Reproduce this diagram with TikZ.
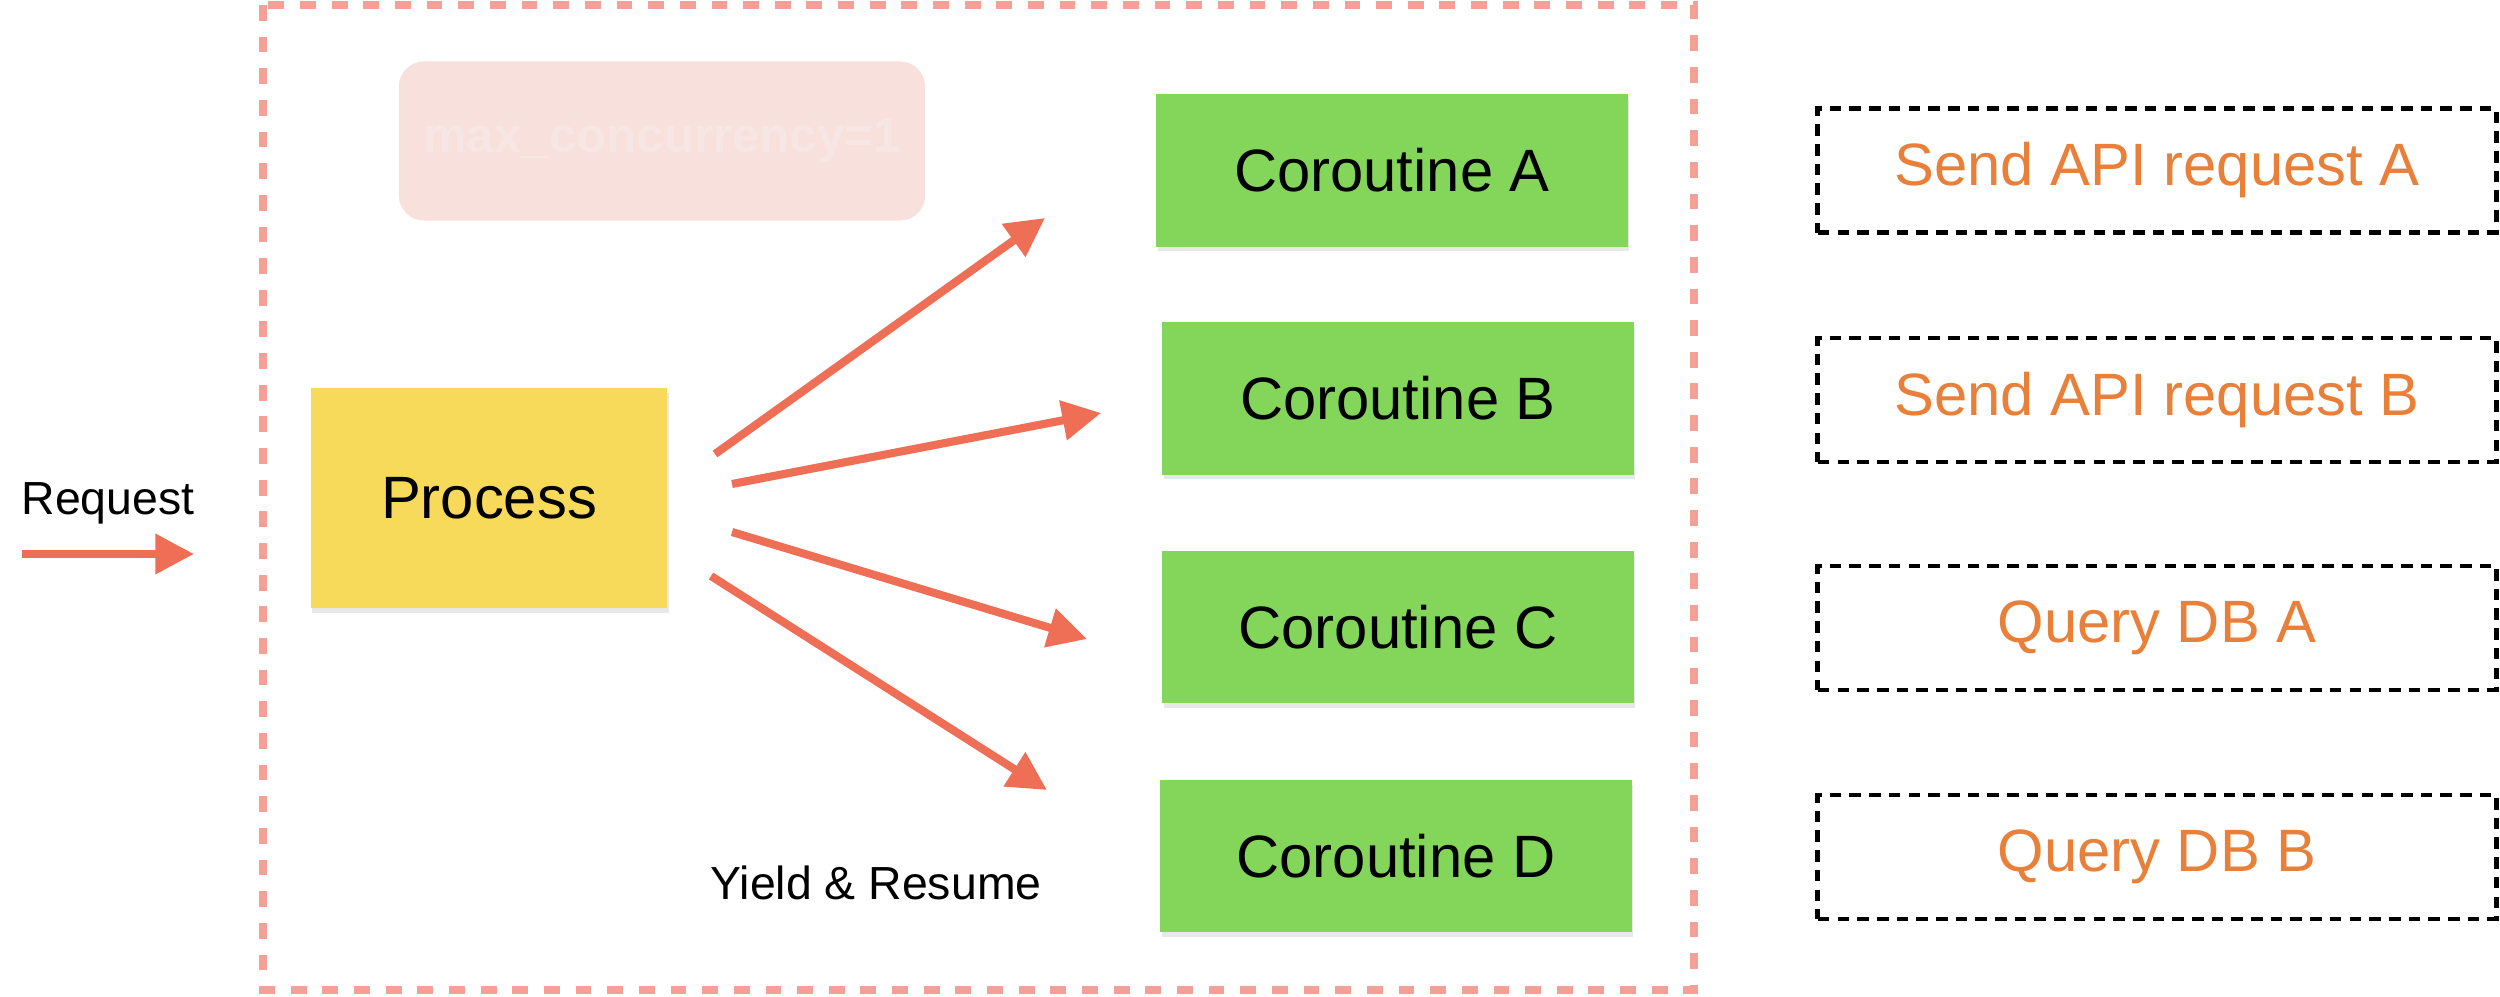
\documentclass[tikz,border=0pt]{standalone}
\usepackage{fontspec}
\setmainfont{Liberation Sans}
\usetikzlibrary{shadows,arrows.meta}
\definecolor{pinkdash}{HTML}{F4A096}
\definecolor{maxfill}{HTML}{F8E1DD}
\definecolor{maxtext}{HTML}{F7E6E3}
\definecolor{procfill}{HTML}{F8DA5A}
\definecolor{corofill}{HTML}{83D65A}
\definecolor{arrowc}{HTML}{EE6E56}
\definecolor{orangetext}{HTML}{E9803A}
\tikzset{
  boxshadow/.style={drop shadow={opacity=0.18, shadow xshift=0.4pt, shadow yshift=-1.3pt}},
  procbox/.style={fill=procfill, boxshadow, minimum width=3.56cm, minimum height=2.2cm, inner sep=0pt, font=\fontsize{17}{20}\selectfont},
  corobox/.style={fill=corofill, boxshadow, minimum width=4.71cm, minimum height=1.52cm, inner sep=0pt, font=\fontsize{17}{20}\selectfont},
  taskbox/.style={draw=black, line width=1.35pt, dash pattern=on 3.3pt off 2.3pt, minimum width=6.78cm, minimum height=1.24cm, inner sep=0pt, text=orangetext, font=\fontsize{17}{20}\selectfont},
  maxbox/.style={fill=maxfill, rounded corners=0.25cm, minimum width=5.26cm, minimum height=1.59cm, inner sep=0pt, text=maxtext, font=\bfseries\fontsize{14}{17}\selectfont},
  outerbox/.style={draw=pinkdash, line width=2.3pt, dash pattern=on 4.5pt off 4.5pt},
  flow/.style={draw=arrowc, line width=2.3pt, -{Triangle[length=11pt, width=11pt]}},
  lbl/.style={font=\fontsize{13.2}{16}\selectfont, inner sep=0pt, anchor=base},
}
\begin{document}
\begin{tikzpicture}[x=0.01cm, y=-0.01cm]
\useasboundingbox (0,0) rectangle (2500,997);
% outer container
\draw[outerbox] (263,5) rectangle (1694,990);
% max concurrency label box
\node[maxbox] (max) at (662,141) {max\_concurrency=1};
% process
\node[procbox] (proc) at (489,498) {Process};
% coroutines
\node[corobox] (ca) at (1392,170.5) {Coroutine A};
\node[corobox] (cb) at (1398,398.5) {Coroutine B};
\node[corobox] (cc) at (1398,627) {Coroutine C};
\node[corobox] (cd) at (1396,856) {Coroutine D};
% tasks
\node[taskbox] (ta) at (2157,170.5) {Send API request A};
\node[taskbox] (tb) at (2157,400) {Send API request B};
\node[taskbox] (tc) at (2157,628) {Query DB A};
\node[taskbox] (td) at (2157,857) {Query DB B};
% labels
\node[lbl] (req) at (108,514) {Request};
\node[lbl] (yr) at (876,899) {Yield \& Resume};
% request arrow
\coordinate (rs) at (22,554);
\coordinate (re) at (194,554);
\draw[flow] (rs) -- (re);
% fan-out arrows
\coordinate (s1) at (715,454);  \coordinate (e1) at (1045,218);
\coordinate (s2) at (732,484);  \coordinate (e2) at (1101,413);
\coordinate (s3) at (732,532);  \coordinate (e3) at (1087,639);
\coordinate (s4) at (711,576);  \coordinate (e4) at (1047,790);
\draw[flow] (s1) -- (e1);
\draw[flow] (s2) -- (e2);
\draw[flow] (s3) -- (e3);
\draw[flow] (s4) -- (e4);
\end{tikzpicture}
\end{document}
